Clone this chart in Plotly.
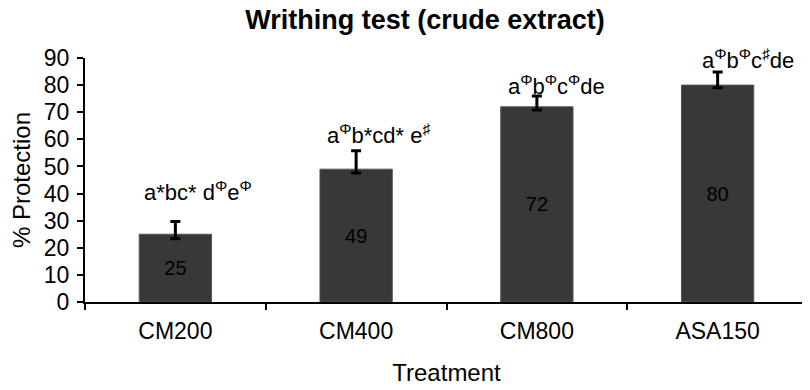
import plotly.graph_objects as go

categories = ["CM200", "CM400", "CM800", "ASA150"]
protection = [25, 49, 72, 80]
err_plus = [4.7, 6.8, 4.0, 4.8]
err_minus = [1.7, 1.4, 1.2, 1.0]
sig_labels = [
    "a*bc* d<sup>Φ</sup>e<sup>Φ</sup>",
    "a<sup>Φ</sup>b*cd* e<sup>♯</sup>",
    "a<sup>Φ</sup>b<sup>Φ</sup>c<sup>Φ</sup>de",
    "a<sup>Φ</sup>b<sup>Φ</sup>c<sup>♯</sup>de",
]
sig_y = [38.5, 59.3, 77.4, 87.0]
sig_xshift = [23, 22, 20, 30]
y_ticks = [0, 10, 20, 30, 40, 50, 60, 70, 80, 90]

FONT = "Liberation Sans, Arial, sans-serif"

fig = go.Figure()
fig.add_trace(go.Bar(
    x=categories,
    y=protection,
    marker=dict(color="#383838", line=dict(color="#555555", width=1)),
    text=[str(v) for v in protection],
    textposition="inside",
    insidetextanchor="middle",
    textfont=dict(family=FONT, size=20, color="#000000"),
    error_y=dict(type="data", symmetric=False, array=err_plus, arrayminus=err_minus,
                 color="#000000", thickness=3, width=5),
    width=0.4,
    cliponaxis=False,
))

for c, lab, yy, xs in zip(categories, sig_labels, sig_y, sig_xshift):
    fig.add_annotation(x=c, y=yy, text=lab, showarrow=False, xshift=xs,
                       yanchor="bottom", yshift=-9,
                       font=dict(family=FONT, size=22, color="#000000"))

# page has an 8px body margin, so the figure is sized to fit the 810x390 window
fig.update_layout(
    width=802, height=382,
    margin=dict(l=77, r=2, t=50, b=88, autoexpand=False),
    paper_bgcolor="white", plot_bgcolor="white",
    showlegend=False,
    title=dict(text="<b>Writhing test (crude extract)</b>", x=417/802, xanchor="center",
               y=1 - 12/382, yanchor="middle",
               font=dict(family=FONT, size=27, color="#000000")),
    xaxis=dict(
        type="category", tickson="boundaries", ticks="outside", ticklen=6, tickwidth=2,
        tickcolor="#000000", showline=True, linecolor="#000000", linewidth=2,
        showgrid=False, zeroline=False, automargin=False, ticklabelstandoff=7,
        tickfont=dict(family=FONT, size=23, color="#000000"),
        title=dict(text="Treatment", standoff=22, font=dict(family=FONT, size=24, color="#000000")),
    ),
    yaxis=dict(
        range=[0, 90], tickvals=y_ticks, ticks="outside", ticklen=6, tickwidth=2,
        tickcolor="#000000", showline=True, linecolor="#000000", linewidth=2,
        showgrid=False, zeroline=False, automargin=False, ticklabelstandoff=3,
        tickfont=dict(family=FONT, size=23, color="#000000"),
        title=dict(text="% Protection", standoff=8, font=dict(family=FONT, size=24, color="#000000")),
    ),
)

fig.write_html("out.html")
